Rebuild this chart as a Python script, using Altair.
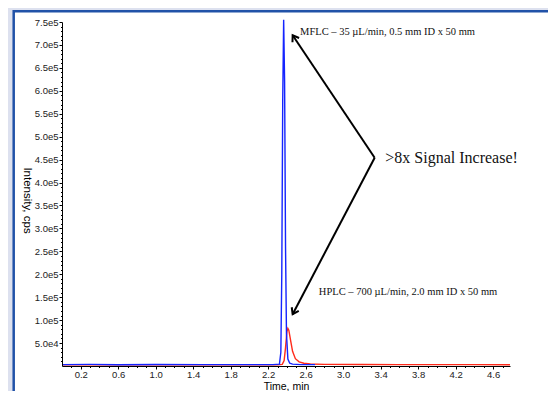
import altair as alt
import pandas as pd

# MFLC (blue) trace
mflc_time = [0.0, 0.3, 0.6, 1.0, 1.5, 2.0, 2.25, 2.32, 2.335, 2.345, 2.355, 2.365,
             2.375, 2.385, 2.395, 2.41, 2.43, 2.46, 2.55, 2.7]
mflc_int = [3000, 3500, 2800, 3200, 3000, 3100, 3000, 4000, 30000, 200000, 580000, 755000,
            620000, 260000, 70000, 15000, 6000, 4000, 3000, 3000]

# HPLC (red) trace
hplc_time = [0.0, 0.5, 1.0, 1.5, 2.0, 2.3, 2.35, 2.37, 2.385, 2.40, 2.41, 2.42, 2.44,
             2.46, 2.49, 2.53, 2.58, 2.65, 2.8, 3.2, 3.6, 4.0, 4.4, 4.78]
hplc_int = [2500, 2600, 2500, 2700, 2600, 2800, 3500, 12000, 40000, 75000, 82000, 78000,
            55000, 32000, 16000, 9000, 6000, 4500, 3500, 3200, 3000, 3000, 2900, 2800]

x_tick_values = [round(0.1 * i, 1) for i in range(1, 48)]
y_tick_values = list(range(10000, 750001, 10000))

# annotation geometry (data units)
vertex = (3.336, 454000)
mflc_tip = (2.461, 721000)
hplc_tip = (2.461, 113000)

texts = pd.DataFrame({
    "x": [2.54, 2.74],
    "y": [729000, 162000],
    "label": ["MFLC \u2013 35 \u00b5L/min, 0.5 mm ID x 50 mm",
              "HPLC \u2013 700 \u00b5L/min, 2.0 mm ID x 50 mm"],
})
big_text = pd.DataFrame({"x": [3.45], "y": [454000], "label": [">8x Signal Increase!"]})

W, H = 448, 344
XD = [0, 4.78]
YD = [0, 750000]

xscale = alt.Scale(domain=XD, nice=False, zero=False)
yscale = alt.Scale(domain=YD, nice=False)

frame = alt.Chart(pd.DataFrame({"a": [0]})).mark_rect(
    fill="white", stroke="#2152a8", strokeWidth=2.5
).encode(x=alt.value(-48.3), x2=alt.value(600), y=alt.value(-10.7), y2=alt.value(430))

xaxis = alt.Axis(
    values=x_tick_values,
    labelExpr="abs(datum.value*10 % 4 - 2) < 0.01 ? format(datum.value, '.1f') : ''",
    tickSize={"condition": {"test": "abs(datum.value*10 % 4 - 2) < 0.01", "value": 3}, "value": 1.5},
    title="Time, min", titleFont="Liberation Sans", titleFontSize=10.5, titleFontWeight="normal",
    titleColor="black", titleY=23, titleBaseline="alphabetic", titleAlign="center",
    labelFont="Liberation Sans", labelFontSize=9.5, labelColor="#222", labelPadding=0,
    labelOverlap=False, labelFlush=False, labelBound=False, domainColor="black", tickColor="black",
    grid=False, zindex=1,
)
yaxis = alt.Axis(
    values=y_tick_values,
    labelExpr="datum.value % 50000 == 0 ? replace(format(datum.value, '.1e'), '+', '') : ''",
    tickSize={"condition": {"test": "datum.value % 50000 == 0", "value": 3}, "value": 1.5},
    title="Intensity, cps", titleFont="Liberation Sans", titleFontSize=11.5, titleFontWeight="normal",
    titleColor="black", titleAngle=90, titleX=-36, titleY=178, titleAlign="center",
    titleBaseline="middle",
    labelFont="Liberation Sans", labelFontSize=9.5, labelColor="#222", labelPadding=1,
    labelOverlap=False, labelFlush=False, labelBound=False, domainColor="black", tickColor="black",
    grid=False, zindex=1,
)

X = lambda f: alt.X(f, scale=xscale, axis=xaxis)
Y = lambda f: alt.Y(f, scale=yscale, axis=yaxis)

red = alt.Chart(pd.DataFrame({"t": hplc_time, "v": hplc_int})).mark_line(
    color="#ff2a1a", strokeWidth=1.4, clip=False
).encode(x=X("t:Q"), y=Y("v:Q"))

blue = alt.Chart(pd.DataFrame({"t": mflc_time, "v": mflc_int})).mark_line(
    color="#1424ff", strokeWidth=1.4, clip=False
).encode(x=X("t:Q"), y=Y("v:Q"))

arrow_df = pd.DataFrame({
    "t": [vertex[0], vertex[0]], "v": [vertex[1], vertex[1]],
    "t2": [mflc_tip[0], hplc_tip[0]], "v2": [mflc_tip[1], hplc_tip[1]],
    "angle": [327.2, 206.8],
})
arrows = alt.Chart(arrow_df).mark_rule(color="black", strokeWidth=2).encode(
    x=X("t:Q"), y=Y("v:Q"), x2="t2:Q", y2="v2:Q"
)
heads = alt.Chart(arrow_df).mark_point(
    shape="M-0.75,1.1L0,0L0.75,1.1", filled=False, stroke="black", strokeWidth=2,
    size=110, opacity=1
).encode(
    x=X("t2:Q"), y=Y("v2:Q"),
    angle=alt.Angle("angle:Q", scale=None),
)

text_df = texts.rename(columns={"x": "t", "y": "v"})
labels = alt.Chart(text_df).mark_text(
    font="Liberation Serif", fontSize=10.5, align="left", baseline="middle", color="#111"
).encode(x=X("t:Q"), y=Y("v:Q"), text="label:N")

big_df = big_text.rename(columns={"x": "t", "y": "v"})
big = alt.Chart(big_df).mark_text(
    font="Liberation Serif", fontSize=16, align="left", baseline="middle", color="#111"
).encode(x=X("t:Q"), y=Y("v:Q"), text="label:N")

chart = alt.layer(frame, red, blue, arrows, heads, labels, big).properties(
    width=W, height=H,
    autosize=alt.AutoSizeParams(type="none"),
    padding={"left": 54, "top": 14, "right": 38, "bottom": 25},
).configure(background="#dde1ef").configure_view(stroke=None)

chart.save("out.html", embed_options={"renderer": "svg", "actions": False})
